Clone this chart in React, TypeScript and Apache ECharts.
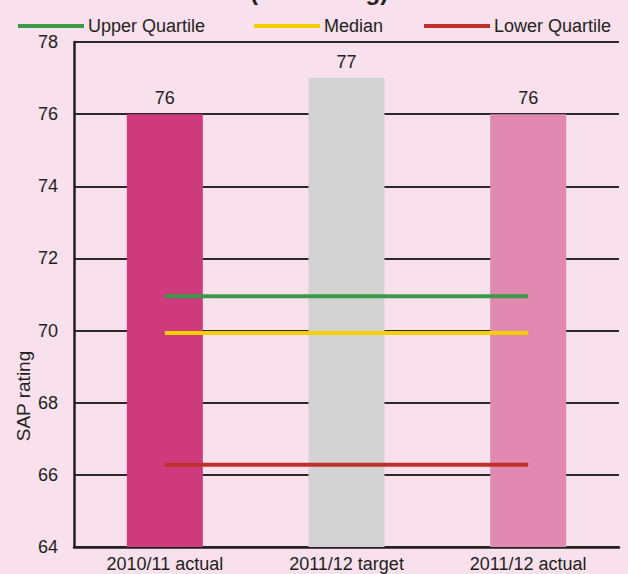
import React, { useEffect, useRef } from "react";
import * as echarts from "echarts";

const categories = ["2010/11 actual", "2011/12 target", "2011/12 actual"];
const barValues = [76, 77, 76];
const barColors = ["#cf3a7c", "#d3d3d3", "#e189b0"];
const upperQuartile = [70.95, 70.95, 70.95];
const median = [69.93, 69.93, 69.93];
const lowerQuartile = [66.28, 66.28, 66.28];
const yTicks = { min: 64, max: 78, interval: 2 };

const FONT = "'Liberation Sans', Arial, sans-serif";

export default function App() {
  const ref = useRef<HTMLDivElement>(null);
  useEffect(() => {
    const chart = echarts.init(ref.current!, undefined, { renderer: "svg" });
    const lineSeries = (name: string, data: number[], color: string) => ({
      name,
      type: "line",
      data,
      symbol: "none",
      z: 5,
      lineStyle: { color, width: 4 },
      itemStyle: { color },
    });
    const legendCommon = {
      top: 17,
      icon: "rect",
      itemWidth: 66,
      itemHeight: 4,
      itemGap: 0,
      textStyle: { fontFamily: FONT, fontSize: 18, color: "#231f20", padding: [0, 0, 0, -1] },
      padding: 0,
    };
    chart.setOption({
      animation: false,
      backgroundColor: "#f8e0ec",
      textStyle: { fontFamily: FONT },
      graphic: [
        {
          type: "text",
          x: 319,
          y: -21,
          style: {
            text: "(SAP rating)",
            font: `bold 24px ${FONT}`,
            fill: "#231f20",
            textAlign: "center",
            textVerticalAlign: "top",
          },
        },
        {
          type: "text",
          x: 23,
          y: 396,
          rotation: Math.PI / 2,
          style: {
            text: "SAP rating",
            font: `19px ${FONT}`,
            fill: "#231f20",
            textAlign: "center",
            textVerticalAlign: "middle",
          },
        },
      ],
      legend: [
        { ...legendCommon, left: 18, data: ["Upper Quartile"] },
        { ...legendCommon, left: 254, data: ["Median"] },
        { ...legendCommon, left: 424, data: ["Lower Quartile"] },
      ],
      grid: { left: 74, right: 9, top: 42, bottom: 27, containLabel: false },
      xAxis: {
        type: "category",
        data: categories,
        axisLine: { lineStyle: { color: "#231f20", width: 2.5 } },
        axisTick: { show: false },
        axisLabel: { fontFamily: FONT, fontSize: 18, color: "#231f20", margin: 8 },
      },
      yAxis: {
        type: "value",
        min: yTicks.min,
        max: yTicks.max,
        interval: yTicks.interval,
        axisLine: { show: true, lineStyle: { color: "#231f20", width: 2.5 } },
        axisTick: { show: false },
        axisLabel: { fontFamily: FONT, fontSize: 18, color: "#231f20", margin: 16 },
        splitLine: { lineStyle: { color: "#2a2a2a", width: 2 } },
      },
      series: [
        {
          type: "bar",
          barWidth: 76,
          z: 3,
          data: barValues.map((v, i) => ({ value: v, itemStyle: { color: barColors[i] } })),
          label: {
            show: true,
            position: "top",
            distance: 7,
            fontFamily: FONT,
            fontSize: 18,
            color: "#231f20",
          },
        },
        lineSeries("Upper Quartile", upperQuartile, "#3a9a4a"),
        lineSeries("Median", median, "#f5cf00"),
        lineSeries("Lower Quartile", lowerQuartile, "#c0302a"),
      ],
    });
    return () => chart.dispose();
  }, []);
  return <div ref={ref} style={{ width: 628, height: 574, position: "absolute", left: 0, top: 0 }} />;
}
